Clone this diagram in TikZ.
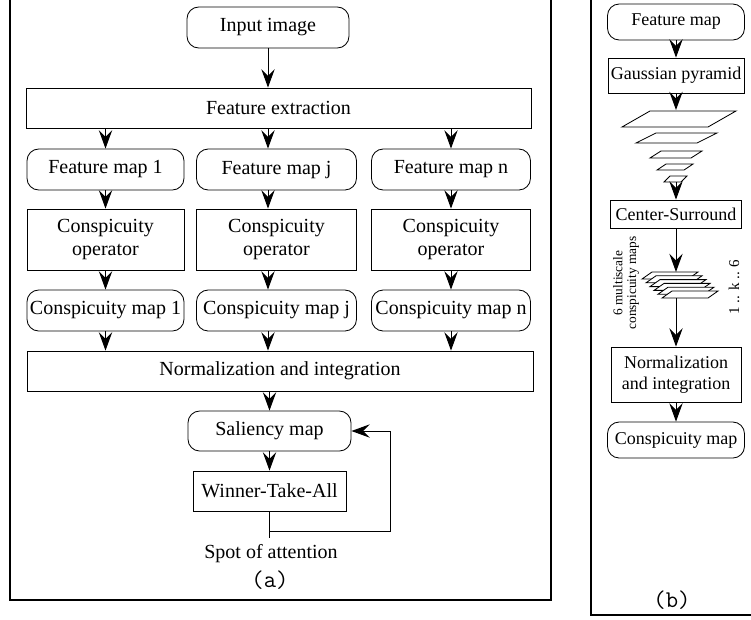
\documentclass[tikz,border=0pt]{standalone}
\usepackage{fontspec}
\setmainfont{Liberation Serif}
\usepackage{tikz}
\usetikzlibrary{arrows.meta}

\begin{document}
\begin{tikzpicture}[x=0.6pt, y=-0.6pt,
      rbox/.style={draw, rounded corners=7pt, line width=0.5pt, inner sep=1pt, font=\fontsize{12}{14}\selectfont},
      sbox/.style={draw, line width=0.5pt, inner sep=1pt, align=center, font=\fontsize{12}{14}\selectfont},
      rside/.style={font=\fontsize{10.8}{12.6}\selectfont},
      lbl/.style={font=\fontsize{8}{8.2}\selectfont, inner sep=0pt, align=center},
      subcap/.style={font=\ttfamily\fontsize{14.4}{16}\selectfont},
      arr/.style={-{Stealth[length=11pt,width=8pt,inset=4pt]}, line width=0.6pt},
      frm/.style={line width=1.3pt}
    ]
      \useasboundingbox (0,0) rectangle (751,619);
      % (a) overall model
      \node[rbox, minimum width=97.2pt, minimum height=24.6pt] (inimg) at (268,27.5) {Input image};
      \node[sbox, minimum width=303pt, minimum height=24pt] (fext) at (278.5,108) {Feature extraction};
      \draw[arr] (inimg) -- (inimg |- fext.north);
      \node[rbox, minimum width=94.2pt, minimum height=24.6pt] (fm1) at (105.5,169.5) {Feature map 1};
      \node[rbox, minimum width=96pt, minimum height=24.6pt] (fmj) at (276.5,169.5) {Feature map j};
      \node[rbox, minimum width=95.4pt, minimum height=24.6pt] (fmn) at (451,169.5) {Feature map n};
      \node[sbox, minimum width=94.2pt, minimum height=36.6pt] (co1) at (105.5,239.5) {Conspicuity\\operator};
      \node[sbox, minimum width=96pt, minimum height=36.6pt] (coj) at (276.5,239.5) {Conspicuity\\operator};
      \node[sbox, minimum width=95.4pt, minimum height=36.6pt] (con) at (451,239.5) {Conspicuity\\operator};
      \node[rbox, minimum width=94.2pt, minimum height=24.6pt] (cm1) at (105.5,310.5) {Conspicuity map 1};
      \node[rbox, minimum width=96pt, minimum height=24.6pt] (cmj) at (276.5,310.5) {Conspicuity map j};
      \node[rbox, minimum width=95.4pt, minimum height=24.6pt] (cmn) at (451,310.5) {Conspicuity map n};
      \node[sbox, minimum width=303.6pt, minimum height=24pt] (norm) at (280,371) {Normalization and integration};
      \draw[arr] (fm1 |- fext.south) -- (fm1);
      \draw[arr] (inimg |- fext.south) -- (inimg |- fmj.north);
      \draw[arr] (fmn |- fext.south) -- (fmn);
      \draw[arr] (fm1) -- (co1);
      \draw[arr] (inimg |- fmj.south) -- (inimg |- coj.north);
      \draw[arr] (fmn) -- (con);
      \draw[arr] (co1) -- (cm1);
      \draw[arr] (inimg |- coj.south) -- (inimg |- cmj.north);
      \draw[arr] (con) -- (cmn);
      \draw[arr] (cm1) -- (cm1 |- norm.north);
      \draw[arr] (inimg |- cmj.south) -- (inimg |- norm.north);
      \draw[arr] (cmn) -- (cmn |- norm.north);
      \node[rbox, minimum width=97.8pt, minimum height=24pt] (sal) at (269.5,431) {Saliency map};
      \node[sbox, minimum width=91.8pt, minimum height=24pt] (wta) at (269.5,491) {Winner-Take-All};
      \draw[arr] (sal |- norm.south) -- (sal);
      \draw[arr] (sal) -- (wta);
      \coordinate (spot) at (269.5,538);
      \coordinate (fb) at (390,531);
      \draw[line width=0.6pt] (wta) -- (spot);
      \draw[arr] (wta |- fb) -- (fb) |- (sal.east);
      \node[font=\fontsize{12}{14}\selectfont] (spottxt) at (271,554) {Spot of attention};
      \node[subcap] (capa) at (270,580) {(a)};
      \draw[frm] (10,-5) -- (10,600) -- (551,600) -- (551,-5);
      % (b) one feature channel
      \node[rbox, rside, minimum width=82.2pt, minimum height=21.6pt] (fmap) at (676,22) {Feature map};
      \node[sbox, rside, minimum width=81.6pt, minimum height=21pt] (gpyr) at (676,75.5) {Gaussian pyramid};
      \draw[arr] (fmap) -- (gpyr);
      \coordinate (pyrtop) at (676,110);
      \coordinate (pyrbot) at (676,182);
      \foreach \x/\y/\w/\s/\h in {622/127/86/28/16, 636/143/61/20/10, 650/158/41/11/7, 657/170/27/9/6, 664/182/17/6/6}
        \draw[line width=0.5pt] (\x,\y) -- ++(\w,0) -- ++(\s,-\h) -- ++(-\w,0) -- cycle;
      \draw[arr] (gpyr) -- (pyrtop);
      \node[sbox, rside, minimum width=78.6pt, minimum height=16.8pt] (csur) at (676,214) {Center-Surround};
      \draw[arr] (pyrbot) -- (csur);
      \coordinate (stktop) at (676,272);
      \coordinate (stkbot) at (676,298);
      \foreach \k in {0,...,5}
        \draw[line width=0.5pt, fill=white] ({642+4*\k},{279+3.8*\k}) -- ++(46,0) -- ++(10,-7) -- ++(-46,0) -- cycle;
      \draw[arr] (csur) -- (stktop);
      \node[sbox, rside, minimum width=78pt, minimum height=33pt] (normb) at (676,374.5) {Normalization\\and integration};
      \draw[arr] (stkbot) -- (normb);
      \node[rbox, rside, minimum width=82.2pt, minimum height=21.6pt] (cmap) at (676,440) {Conspicuity map};
      \draw[arr] (normb) -- (cmap);
      \node[lbl, rotate=90] (msc) at (626,283) {6 multiscale\\conspicuity maps};
      \node[lbl, rotate=90, font=\fontsize{9}{9}\selectfont] (kidx) at (734,287) {1 .. k .. 6};
      \node[subcap] (capb) at (672,600) {(b)};
      \draw[frm] (591,-5) -- (591,615) -- (760,615);
    \end{tikzpicture}
\end{document}
